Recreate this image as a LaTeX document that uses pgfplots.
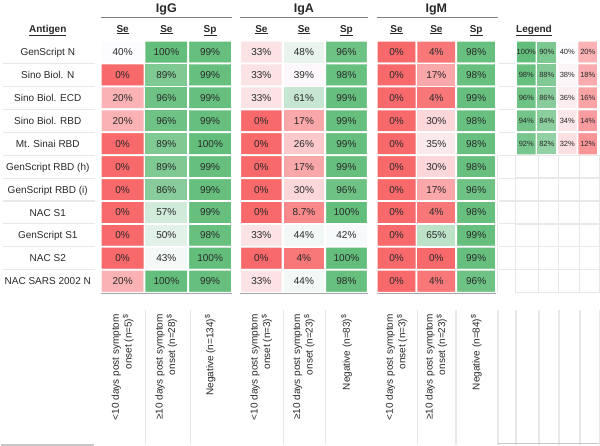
\documentclass[border=0pt]{standalone}
\usepackage{pgfplots}
\pgfplotsset{compat=1.18}
\usepackage{pgfplotstable}
\usepackage{fontspec}
\setmainfont{Liberation Sans}
\definecolor{txt}{RGB}{40,40,40}
\definecolor{gridc}{RGB}{232,232,232}
\definecolor{hdrline}{RGB}{128,128,128}
\definecolor{shadow}{RGB}{165,165,165}
\definecolor{botline}{RGB}{200,200,200}

% r = row (0 = GenScript N ... 10 = NAC SARS 2002 N), c = column, v = value (%)
\pgfplotstableread{
r c v
0 0 40
0 1 100
0 2 99
1 0 0
1 1 89
1 2 99
2 0 20
2 1 96
2 2 99
3 0 20
3 1 96
3 2 99
4 0 0
4 1 89
4 2 100
5 0 0
5 1 89
5 2 99
6 0 0
6 1 86
6 2 99
7 0 0
7 1 57
7 2 99
8 0 0
8 1 50
8 2 98
9 0 0
9 1 43
9 2 100
10 0 20
10 1 100
10 2 99
}\igg

\pgfplotstableread{
r c v
0 0 33
0 1 48
0 2 96
1 0 33
1 1 39
1 2 98
2 0 33
2 1 61
2 2 99
3 0 0
3 1 17
3 2 99
4 0 0
4 1 26
4 2 99
5 0 0
5 1 17
5 2 99
6 0 0
6 1 30
6 2 96
7 0 0
7 1 8.7
7 2 100
8 0 33
8 1 44
8 2 42
9 0 0
9 1 4
9 2 100
10 0 33
10 1 44
10 2 98
}\iga

\pgfplotstableread{
r c v
0 0 0
0 1 4
0 2 98
1 0 0
1 1 17
1 2 98
2 0 0
2 1 4
2 2 99
3 0 0
3 1 30
3 2 98
4 0 0
4 1 35
4 2 98
5 0 0
5 1 30
5 2 98
6 0 0
6 1 17
6 2 96
7 0 0
7 1 4
7 2 98
8 0 0
8 1 65
8 2 99
9 0 0
9 1 0
9 2 99
10 0 0
10 1 4
10 2 96
}\igm

\pgfplotstableread{
r c v
0 0 100
0 1 90
0 2 40
0 3 20
1 0 98
1 1 88
1 2 38
1 3 18
2 0 96
2 1 86
2 2 36
2 3 16
3 0 94
3 1 84
3 2 34
3 3 14
4 0 92
4 1 82
4 2 32
4 3 12
}\leg

\begin{document}
\begin{tikzpicture}
\begin{axis}[
  width=600pt, height=447pt, scale only axis,
  xmin=0, xmax=600, ymin=0, ymax=447, y dir=reverse,
  hide axis, clip=false,
  /pgf/number format/assume math mode=true,
  colormap={rg}{rgb255(0pt)=(248,105,107); rgb255(40pt)=(252,252,255); rgb255(100pt)=(99,190,123)},
  point meta min=0, point meta max=100,
  cell/.style={matrix plot, shader=faceted, faceted color=white, line width=1.8pt, point meta=explicit},
  lab/.style={only marks, mark=*, mark size=0pt, mark options={draw=none,fill=none}, point meta=explicit,
     nodes near coords={\pgfmathprintnumber[assume math mode=true]{\pgfplotspointmeta}\%},
     nodes near coords align=center,
     every node near coord/.append style={anchor=center, text=txt, font=\fontsize{10}{12}\selectfont}},
]
% ---- IgG
\addplot[cell, mesh/cols=3] table[x expr={121.85+43.7*\thisrow{c}}, y expr={50.5+22.9*\thisrow{r}}, meta=v]{\igg};
\addplot[lab] table[x expr={121.85+43.7*\thisrow{c}}, y expr={50.5+22.9*\thisrow{r}}, meta=v]{\igg};
% ---- IgA
\addplot[cell, mesh/cols=3] table[x expr={260.5+42.5*\thisrow{c}}, y expr={50.5+22.9*\thisrow{r}}, meta=v]{\iga};
\addplot[lab] table[x expr={260.5+42.5*\thisrow{c}}, y expr={50.5+22.9*\thisrow{r}}, meta=v]{\iga};
% ---- IgM
\addplot[cell, mesh/cols=3] table[x expr={395.6+39.8*\thisrow{c}}, y expr={50.5+22.9*\thisrow{r}}, meta=v]{\igm};
\addplot[lab] table[x expr={395.6+39.8*\thisrow{c}}, y expr={50.5+22.9*\thisrow{r}}, meta=v]{\igm};
% ---- Legend
\addplot[cell, mesh/cols=4] table[x expr={525.25+20.5*\thisrow{c}}, y expr={50.5+22.9*\thisrow{r}}, meta=v]{\leg};
\addplot[lab, every node near coord/.append style={font=\fontsize{7.5}{9}\selectfont}] table[x expr={525.25+20.5*\thisrow{c}}, y expr={50.5+22.9*\thisrow{r}}, meta=v]{\leg};

% ---- group headers
\foreach \xc/\nm in {165.5/IgG, 303/IgA, 435.4/IgM}{
  \edef\tmp{\noexpand\node[anchor=base, text=txt, font=\noexpand\bfseries\noexpand\fontsize{12.5}{14}\noexpand\selectfont] at (\xc,10.5) {\nm};}\tmp
}
\draw[hdrline, line width=1.4pt] (100,16) -- (231,16);
\draw[hdrline, line width=1.4pt] (239,16) -- (367,16);
\draw[hdrline, line width=1.4pt] (375.7,16) -- (497,16);

% ---- sub headers
\foreach \xc/\nm in {121.85/Se, 165.55/Se, 209.25/Sp, 260.5/Se, 303/Se, 345.5/Sp, 395.6/Se, 435.4/Se, 475.2/Sp}{
  \edef\tmp{\noexpand\node[anchor=base, text=txt, font=\noexpand\bfseries\noexpand\fontsize{10}{12}\noexpand\selectfont] at (\xc,30.5) {\noexpand\underline{\nm}};}\tmp
}
\node[anchor=base, text=txt, font=\bfseries\fontsize{10}{12}\selectfont] at (47,30.5) {\underline{Antigen}};
\node[anchor=base west, inner sep=0pt, text=txt, font=\bfseries\fontsize{10}{12}\selectfont] at (515,30.5) {\underline{Legend}};

% ---- antigen labels
\foreach \i/\nm in {0/GenScript N, 1/Sino Biol. N, 2/Sino Biol. ECD, 3/Sino Biol. RBD, 4/Mt. Sinai RBD, 5/GenScript RBD (h), 6/GenScript RBD (i), 7/NAC S1, 8/GenScript S1, 9/NAC S2, 10/NAC SARS 2002 N}{
  \pgfmathsetmacro{\yy}{50.5+22.9*\i+3.6}
  \edef\tmp{\noexpand\node[anchor=base, text=txt, font=\noexpand\fontsize{10}{12}\noexpand\selectfont] at (47,\yy) {\nm};}\tmp
}
\foreach \i in {1,...,10}{
  \pgfmathsetmacro{\yy}{39.05+22.9*\i}
  \edef\tmp{\noexpand\draw[gridc, line width=1.1pt] (2,\yy) -- (94,\yy);}\tmp
}

% ---- shadows under groups
\draw[shadow, line width=1.2pt] (100,291.6) -- (231,291.6);
\draw[shadow, line width=1.2pt] (239,291.6) -- (367,291.6);
\draw[shadow, line width=1.2pt] (375.7,291.6) -- (495,291.6);

% ---- empty grid cells
\foreach \i in {1,...,10}{
  \pgfmathsetmacro{\yy}{39.05+22.9*\i}
  \edef\tmp{\noexpand\draw[gridc, line width=1.1pt] (498,\yy) -- (514,\yy);}\tmp
}
\foreach \i in {5,...,11}{
  \pgfmathsetmacro{\yy}{39.05+22.9*\i}
  \edef\tmp{\noexpand\draw[gridc, line width=1.3pt] (514,\yy) -- (598,\yy);}\tmp
}
\foreach \xx in {496.8,514.5,537.5,557.7,578.4,598.3}{
  \edef\tmp{\noexpand\draw[gridc, line width=1.3pt] (\xx,153.5) -- (\xx,291);}\tmp
}

% ---- bottom region
\foreach \xx in {145,190,283,325,416.5,455,497,515,538,558,579,598}{
  \edef\tmp{\noexpand\draw[gridc, line width=1.1pt] (\xx,308) -- (\xx,443);}\tmp
}
\draw[botline, line width=1.5pt] (0,443.3) -- (93,443.3);
\draw[botline, line width=1.5pt] (497,441.8) -- (598,441.8);

\tikzset{rl/.style={rotate=90, anchor=east, align=right, text=txt, font=\fontsize{10}{12.5}\selectfont}}
\node[rl] at (121.85,309) {<10 days post symptom\\onset (n=5)\textsuperscript{\$}};
\node[rl] at (165.55,309) {≥10 days post symptom\\onset (n=28)\textsuperscript{\$}};
\node[rl] at (209.25,309) {Negative (n=134)\textsuperscript{\$}};
\node[rl] at (260.5,309) {<10 days post symptom\\onset (n=3)\textsuperscript{\$}};
\node[rl] at (303,309) {≥10 days post symptom\\onset (n=23)\textsuperscript{\$}};
\node[rl] at (345.5,309) {Negative (n=83)\textsuperscript{\$}};
\node[rl] at (395.6,309) {<10 days post symptom\\onset (n=3)\textsuperscript{\$}};
\node[rl] at (435.4,309) {≥10 days post symptom\\onset (n=23)\textsuperscript{\$}};
\node[rl] at (475.2,309) {Negative (n=84)\textsuperscript{\$}};
\end{axis}
\end{tikzpicture}
\end{document}
